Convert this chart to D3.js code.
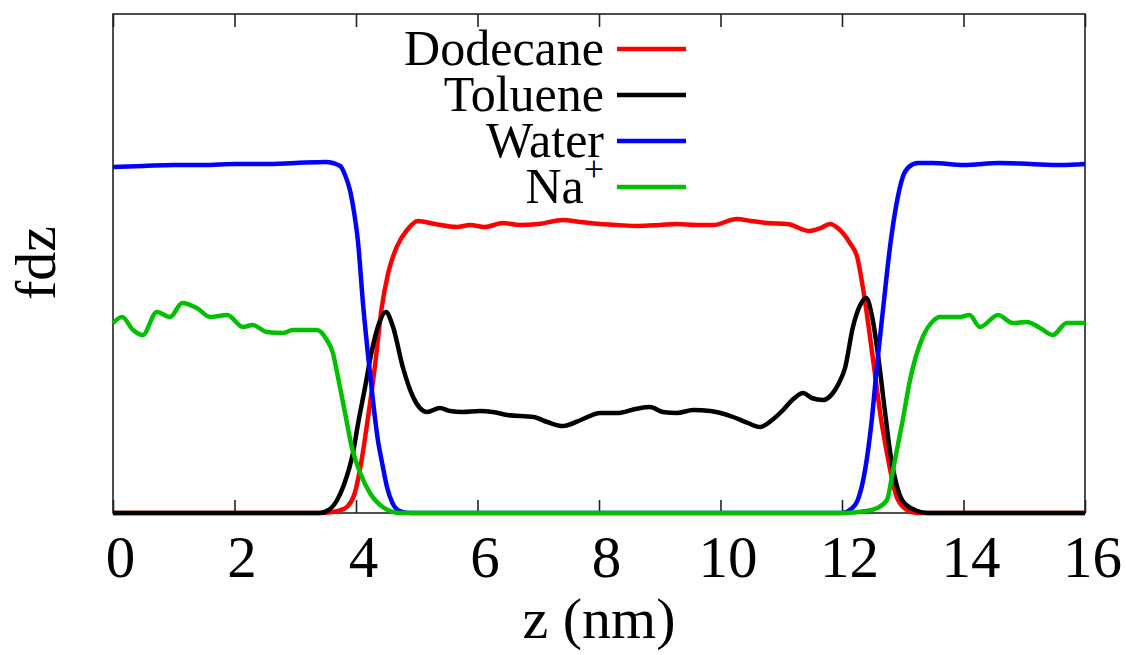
<!DOCTYPE html>
<html>
<head>
<meta charset="utf-8">
<script src="https://cdn.jsdelivr.net/npm/d3@7"></script>
<style>
  body { margin: 0; background: #fff; }
  svg text { font-family: "Liberation Serif", "DejaVu Serif", serif; fill: #000; }
</style>
</head>
<body>
<svg id="chart" width="1126" height="655"></svg>
<script>
// z (nm) ticks
const xTicks = [0, 2, 4, 6, 8, 10, 12, 14, 16];

// density profiles, [z, fdz] in arbitrary units
const dodecane = [[0,0],[3.4,0],[3.62,1],[3.75,3],[3.85,6],[3.98,20],[4.07,45],[4.18,88],[4.31,146],[4.42,204],[4.53,240],[4.67,266],[4.84,283],[5.02,292],[5.3,289],[5.66,286],[5.88,288],[6.12,286],[6.42,290],[6.7,288],[7.0,289],[7.41,293],[7.7,291],[8.02,289],[8.3,288],[8.63,287],[9.0,288],[9.28,289],[9.6,288],[9.88,288],[10.27,294],[10.5,292],[10.77,290],[11.1,289],[11.47,282],[11.65,285],[11.8,289],[11.95,284],[12.13,270],[12.25,256],[12.35,223],[12.43,190],[12.54,140],[12.64,95],[12.74,60],[12.9,16],[13.05,4],[13.25,0],[16,0]];

const toluene = [[0,0],[3.4,0],[3.55,3],[3.69,13],[3.8,28],[3.95,60],[4.03,88],[4.15,126],[4.26,162],[4.37,188],[4.49,201],[4.61,186],[4.77,146],[4.94,116],[5.17,101],[5.38,105],[5.55,102],[5.75,101],[6.04,102],[6.25,101],[6.49,98],[6.92,96],[7.15,91],[7.41,87],[7.7,93],[8.02,100],[8.3,100],[8.6,104],[8.84,106],[9.05,101],[9.28,100],[9.55,103],[9.83,102],[10.21,96],[10.45,90],[10.65,86],[10.85,93],[11.03,103],[11.2,114],[11.36,120],[11.5,115],[11.69,113],[11.85,120],[11.95,130],[12.05,145],[12.18,186],[12.3,208],[12.4,215],[12.5,195],[12.6,155],[12.7,105],[12.8,58],[12.9,28],[13.0,12],[13.2,3],[13.4,0],[16,0]];

const water = [[0,346],[0.5,347],[1,348],[1.5,348],[2,349],[2.5,349],[3,350],[3.5,351],[3.74,347],[3.82,338],[3.9,323],[3.97,300],[4.03,273],[4.12,206],[4.23,140],[4.36,73],[4.43,50],[4.51,26],[4.6,10],[4.72,2],[4.9,0],[12.0,0],[12.15,4],[12.26,13],[12.38,43],[12.49,93],[12.58,150],[12.68,206],[12.79,266],[12.9,310],[13.0,336],[13.1,346],[13.25,350],[13.5,350],[14,348],[14.6,350],[15.1,349],[15.6,348],[16,349]];

const sodium = [[0,190],[0.15,196],[0.33,183],[0.49,178],[0.72,201],[0.94,196],[1.14,210],[1.38,205],[1.6,196],[1.88,198],[2.14,186],[2.3,188],[2.53,181],[2.8,180],[2.96,183],[3.2,183],[3.36,183],[3.52,173],[3.62,160],[3.69,140],[3.82,100],[3.93,66],[4.07,40],[4.23,20],[4.44,6],[4.72,0],[12.0,0],[12.4,2],[12.58,5],[12.74,13],[12.84,43],[13.0,93],[13.12,133],[13.33,176],[13.5,192],[13.61,196],[13.94,196],[14.1,198],[14.27,186],[14.57,198],[14.81,190],[15.04,191],[15.26,185],[15.47,178],[15.7,190],[16,190]];

const seriesNames = ["Dodecane", "Toluene", "Water", "Na"];
const seriesColors = ["#ff0000", "#000000", "#0000ff", "#00c000"];
const seriesData = [dodecane, toluene, water, sodium];

const svg = d3.select("#chart");
const plotLeft = 113, plotRight = 1085, plotTop = 14, plotBottom = 513;

const x = d3.scaleLinear().domain([0, 16]).range([plotLeft, plotRight]);
const y = d3.scaleLinear().domain([0, 499]).range([plotBottom, plotTop]);

// frame
svg.append("rect")
    .attr("x", plotLeft).attr("y", plotTop)
    .attr("width", plotRight - plotLeft).attr("height", plotBottom - plotTop)
    .attr("fill", "none").attr("stroke", "#222").attr("stroke-width", 1.6);

// bottom axis, ticks pointing inward
const xAxis = svg.append("g")
    .attr("transform", `translate(0,${plotBottom})`)
    .call(d3.axisBottom(x).tickValues(xTicks).tickSizeInner(-13).tickSizeOuter(0).tickFormat(d3.format("d")));
xAxis.select(".domain").remove();
xAxis.selectAll(".tick line").attr("stroke", "#222").attr("stroke-width", 1.6);
xAxis.selectAll(".tick text")
    .attr("y", 64).attr("dy", null).attr("x", 7)
    .attr("font-size", 59).attr("fill", "#000")
    .style("font-family", '"Liberation Serif", serif');

// top axis, ticks only
const topAxis = svg.append("g")
    .attr("transform", `translate(0,${plotTop})`)
    .call(d3.axisTop(x).tickValues(xTicks).tickSizeInner(-13).tickSizeOuter(0).tickFormat(""));
topAxis.select(".domain").remove();
topAxis.selectAll(".tick line").attr("stroke", "#222").attr("stroke-width", 1.6);

// curves
const line = d3.line()
    .x(d => x(d[0]))
    .y(d => y(d[1]))
    .curve(d3.curveMonotoneX);

seriesData.forEach((data, i) => {
    svg.append("path")
        .datum(data)
        .attr("d", line)
        .attr("fill", "none")
        .attr("stroke", seriesColors[i])
        .attr("stroke-width", 4.5)
        .attr("stroke-linejoin", "round");
});

// legend
const legend = svg.append("g");
seriesNames.forEach((name, i) => {
    const ly = 49 + i * 46;
    const t = legend.append("text")
        .attr("x", 604).attr("y", ly + 16)
        .attr("text-anchor", "end")
        .attr("font-size", 50)
        .text(name);
    if (name === "Na") {
        t.append("tspan").attr("dy", -22).attr("font-size", 36).text("+");
    }
    legend.append("line")
        .attr("x1", 617).attr("x2", 686)
        .attr("y1", ly).attr("y2", ly)
        .attr("stroke", seriesColors[i])
        .attr("stroke-width", 4.5);
});

// axis titles
svg.append("text")
    .attr("x", 599).attr("y", 638)
    .attr("text-anchor", "middle")
    .attr("font-size", 58)
    .text("z (nm)");

svg.append("text")
    .attr("transform", "translate(55,263) rotate(-90)")
    .attr("text-anchor", "middle")
    .attr("font-size", 58)
    .text("fdz");
</script>
</body>
</html>
